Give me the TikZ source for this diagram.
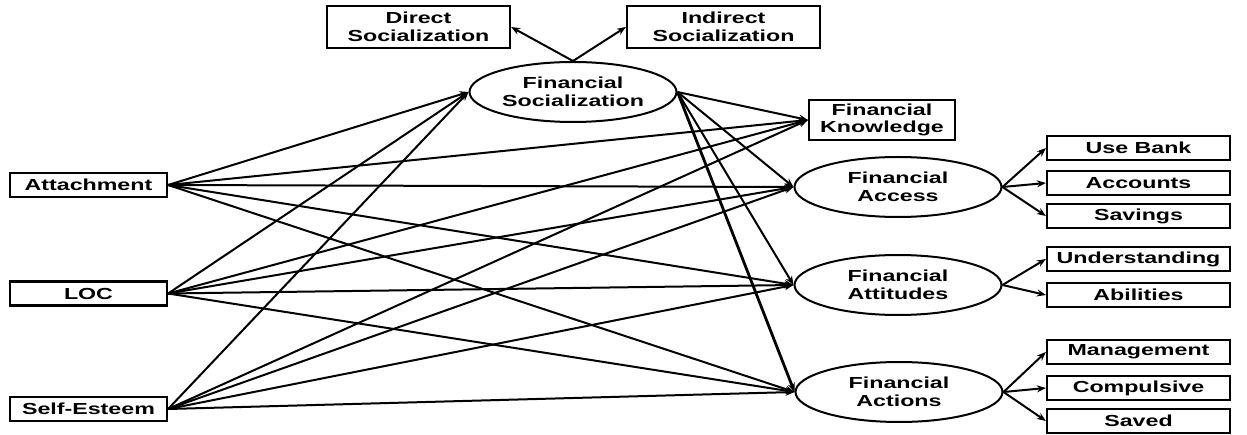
\documentclass[tikz,border=0pt]{standalone}
\usepackage{fontspec}
\newfontfamily\lblfont{Liberation Sans}[FakeStretch=1.45]
\usetikzlibrary{arrows.meta,shapes.geometric}
\begin{document}
\begin{tikzpicture}[x=1pt,y=-1pt,
  lbl/.style={font=\lblfont\bfseries\fontsize{16}{17.5}\selectfont, align=center, inner sep=0pt},
  box/.style={lbl, draw, line width=2.2pt, rectangle, minimum height=24pt},
  sidebox/.style={box, minimum width=157pt},
  itembox/.style={box, minimum width=183pt},
  oval/.style={lbl, draw, line width=2pt, ellipse, minimum width=207pt, minimum height=60pt},
  link/.style={line width=2pt, -{Stealth[length=9pt,width=7pt]}},
  heavy/.style={link, line width=2.8pt}]
\useasboundingbox (0,0) rectangle (1247,435);

% predictors
\node[sidebox] (att) at (88.5,185) {Attachment};
\node[sidebox] (loc) at (88.5,293.5) {LOC};
\node[sidebox] (se)  at (88.5,409) {Self-Esteem};

% socialization block
\node[oval] (fs) at (573,92) {Financial\\Socialization};
\node[box, minimum width=183pt, minimum height=42pt] (ds) at (418.5,27) {Direct\\Socialization};
\node[box, minimum width=193pt, minimum height=42pt] (is) at (723.5,27) {Indirect\\Socialization};

% outcomes
\node[box, minimum width=146pt, minimum height=40pt] (fk) at (882,120) {Financial\\Knowledge};
\node[oval] (fa)  at (898,187) {Financial\\Access};
\node[oval] (fat) at (898,285) {Financial\\Attitudes};
\node[oval] (fac) at (899,392) {Financial\\Actions};

% indicators
\node[itembox] (ub) at (1138.5,148) {Use Bank};
\node[itembox] (ac) at (1138.5,183) {Accounts};
\node[itembox] (sv) at (1138.5,216) {Savings};
\node[itembox] (un) at (1138.5,259) {Understanding};
\node[itembox] (ab) at (1138.5,295) {Abilities};
\node[itembox] (mg) at (1138.5,352) {Management};
\node[itembox] (cp) at (1138.5,388) {Compulsive};
\node[itembox] (sd) at (1138.5,421) {Saved};

% socialization indicators
\draw[link] (fs.north) -- (ds.east);
\draw[link] (fs.north) -- (is.west);

% paths from the predictors
\foreach \s in {att,loc,se}{
  \draw[link] (\s.east) -- (fs.west);
  \draw[link] (\s.east) -- (fk.west);
  \draw[link] (\s.east) -- (fa.west);
  \draw[link] (\s.east) -- (fat.west);
  \draw[link] (\s.east) -- (fac.west);
}

% paths from socialization
\draw[link] (fs.east) -- (fk.west);
\draw[link] (fs.east) -- (fa.west);
\draw[link] (fs.east) -- (fat.west);
\draw[heavy] (fs.east) -- (fac.west);

% measurement arrows
\draw[link] (fa.east) -- (ub.west);
\draw[link] (fa.east) -- (ac.west);
\draw[link] (fa.east) -- (sv.west);
\draw[link] (fat.east) -- (un.west);
\draw[link] (fat.east) -- (ab.west);
\draw[link] (fac.east) -- (mg.west);
\draw[link] (fac.east) -- (cp.west);
\draw[link] (fac.east) -- (sd.west);
\end{tikzpicture}
\end{document}
